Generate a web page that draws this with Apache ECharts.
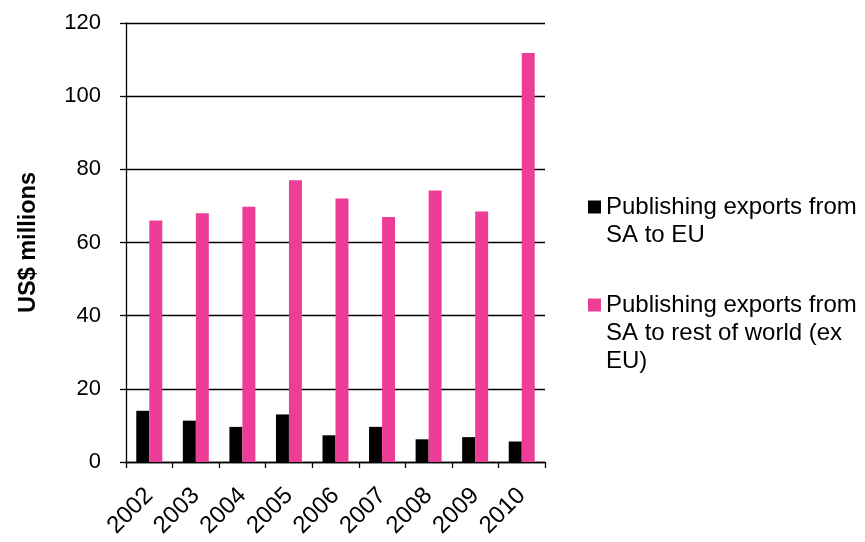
<!DOCTYPE html>
<html>
<head>
<meta charset="utf-8">
<script src="https://cdn.jsdelivr.net/npm/echarts@6/dist/echarts.min.js"></script>
<style>
    html, body { margin: 0; padding: 0; background: #fff; }
    #chart { width: 865px; height: 542px; }
</style>
</head>
<body>
<div id="chart"></div>
<script>
// data
var years = ['2002', '2003', '2004', '2005', '2006', '2007', '2008', '2009', '2010'];
var toEU = [14, 11.3, 9.6, 13, 7.3, 9.6, 6.2, 6.8, 5.6];
var toRestOfWorld = [66, 68, 69.8, 77, 72, 67, 74.2, 68.5, 111.8];
var yTicks = [0, 20, 40, 60, 80, 100, 120];

var nameEU = 'Publishing exports from SA to EU';
var nameRow = 'Publishing exports from SA to rest of world (ex EU)';
// blank lines in front keep the marker level with the first line of text
var legendText = {};
legendText[nameEU] = '\nPublishing exports from\nSA to EU';
legendText[nameRow] = '\n\nPublishing exports from\nSA to rest of world (ex\nEU)';

var font = '"Liberation Sans", Arial, sans-serif';

function legendFor(name, top) {
    return {
        data: [name],
        orient: 'vertical',
        left: 588,
        top: top,
        padding: 0,
        itemWidth: 13,
        itemHeight: 13,
        icon: 'rect',
        formatter: function (n) { return legendText[n]; },
        textStyle: {
            fontSize: 24,
            lineHeight: 28,
            color: '#000'
        }
    };
}

function Chart() {
    var option = {
        animation: false,
        textStyle: { fontFamily: font },
        grid: {
            left: 126,
            right: 320,
            top: 23,
            bottom: 80
        },
        legend: [legendFor(nameEU, 165), legendFor(nameRow, 235)],
        xAxis: {
            type: 'category',
            data: years,
            axisLine: { lineStyle: { color: '#000', width: 1.3 } },
            axisTick: { show: true, length: 6, lineStyle: { color: '#000', width: 1.3 } },
            axisLabel: {
                rotate: 45,
                fontSize: 24,
                color: '#000',
                margin: 30,
                interval: 0
            }
        },
        yAxis: {
            type: 'value',
            min: yTicks[0],
            max: yTicks[yTicks.length - 1],
            interval: 20,
            name: 'US$ millions',
            nameLocation: 'middle',
            nameGap: 85,
            nameTextStyle: {
                fontSize: 23.5,
                fontWeight: 'bold',
                color: '#000'
            },
            axisLine: { show: true, lineStyle: { color: '#000', width: 1.3 } },
            axisTick: { show: true, length: 6, lineStyle: { color: '#000', width: 1.3 } },
            axisLabel: { fontSize: 22, color: '#000', margin: 25 },
            splitLine: { lineStyle: { color: '#000', width: 1.3 } }
        },
        series: [{
            name: nameEU,
            type: 'bar',
            data: toEU,
            barWidth: 13,
            barGap: '0%',
            itemStyle: { color: '#000000' }
        }, {
            name: nameRow,
            type: 'bar',
            data: toRestOfWorld,
            barWidth: 13,
            barGap: '0%',
            itemStyle: { color: '#EE3D96' }
        }]
    };
    var myChart = echarts.init(document.querySelector('#chart'));
    myChart.setOption(option);
}

Chart();
</script>
</body>
</html>
